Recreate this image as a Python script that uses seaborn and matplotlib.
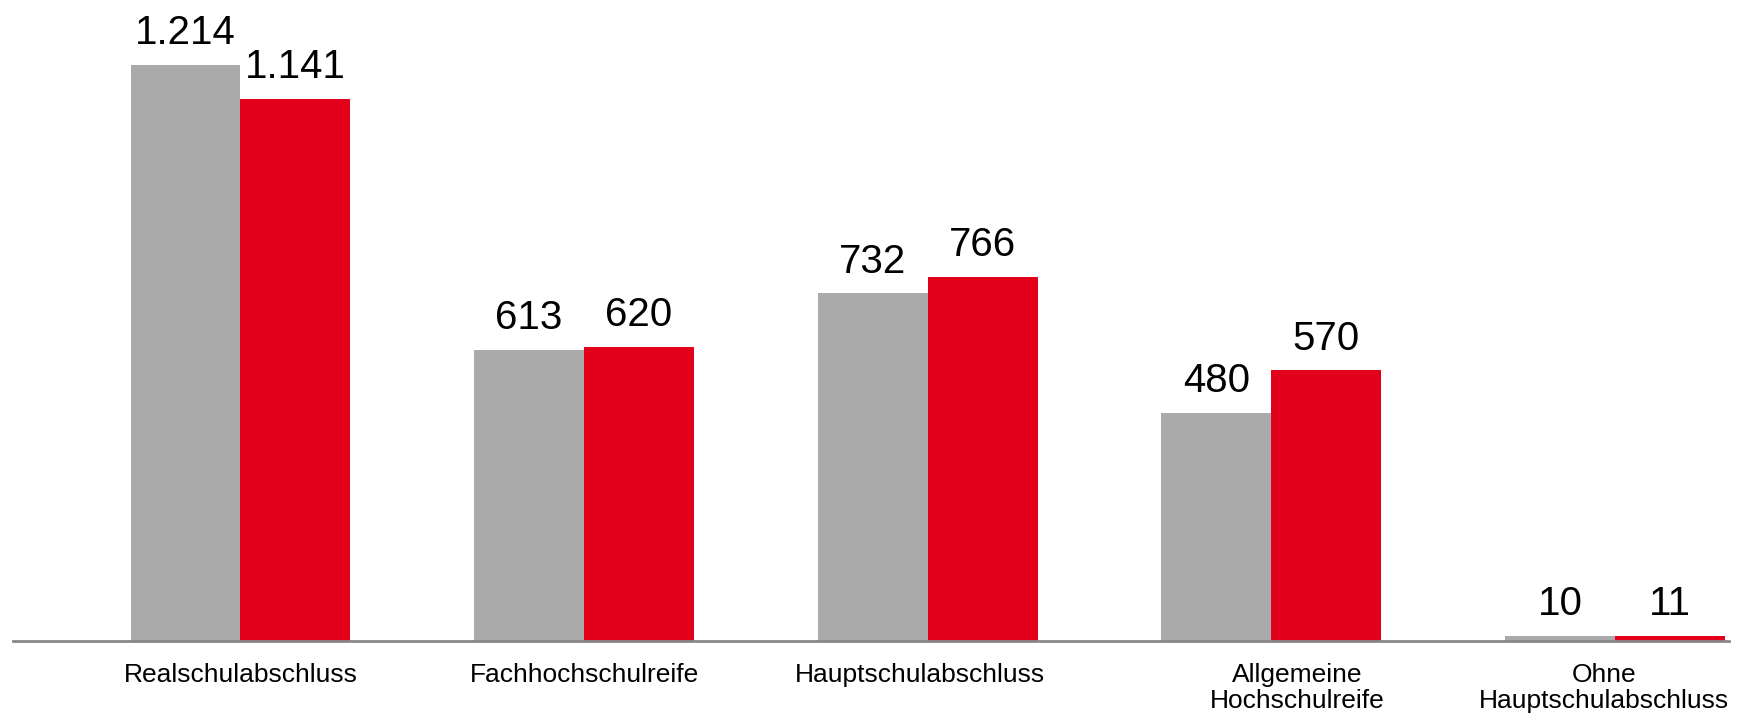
import pandas as pd
import seaborn as sns
import matplotlib.pyplot as plt
from matplotlib.transforms import ScaledTranslation

# Data
categories = ["Realschulabschluss", "Fachhochschulreife", "Hauptschulabschluss",
              "Allgemeine\nHochschulreife", "Ohne\nHauptschulabschluss"]
series_names = ["Vorjahr", "Aktuell"]
values_prev = [1214, 613, 732, 480, 10]
values_curr = [1141, 620, 766, 570, 11]
colors = ["#AAAAAA", "#E2001A"]

df = pd.DataFrame({
    "Abschluss": categories * 2,
    "Reihe": [series_names[0]] * len(categories) + [series_names[1]] * len(categories),
    "Anzahl": values_prev + values_curr,
})

sns.set_style("white")
plt.rcParams['font.family'] = ['Liberation Sans', 'DejaVu Sans']

fig = plt.figure(figsize=(17.38, 7.15), dpi=100)
ax = fig.add_axes([0.0075, 0.1035, 0.9873, 0.8965])

sns.barplot(data=df, x="Abschluss", y="Anzahl", hue="Reihe", order=categories,
            hue_order=series_names, palette=colors, width=0.64, linewidth=0,
            saturation=1, legend=False, ax=ax)

# value labels in German number format
for container in ax.containers:
    for bar in container:
        v = int(round(bar.get_height()))
        ax.annotate(f"{v:,}".replace(",", "."),
                    (bar.get_x() + bar.get_width() / 2, bar.get_height()),
                    xytext=(0, 15), textcoords="offset points",
                    ha="center", va="baseline", fontsize=29, color="black")

ax.set_xlim(-0.662, 4.332)
ax.set_ylim(0, 1350)
ax.set_xlabel("")
ax.set_ylabel("")
ax.set_yticks([])
ax.tick_params(axis="x", length=0, pad=16, labelsize=19, labelcolor="black")

# small horizontal shifts of the category labels, as in the original
label_shift_px = [0, 0, -8, 26, -11]
for lbl, dx in zip(ax.get_xticklabels(), label_shift_px):
    lbl.set_linespacing(1.1)
    lbl.set_transform(lbl.get_transform() + ScaledTranslation(dx / 100, 0, fig.dpi_scale_trans))

for side in ["top", "right", "left"]:
    ax.spines[side].set_visible(False)
ax.spines["bottom"].set_color("#888888")
ax.spines["bottom"].set_linewidth(2)

fig.savefig("out.png", dpi=100)
